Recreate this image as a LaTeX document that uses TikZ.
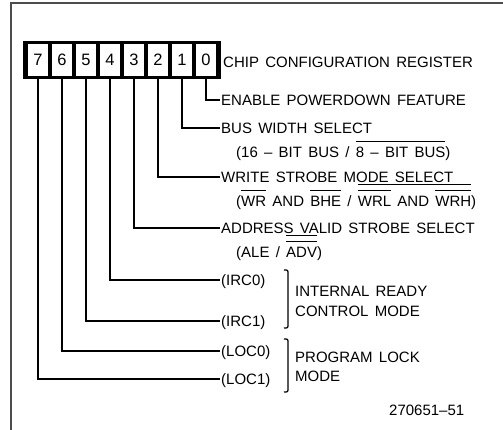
\documentclass[tikz,border=0pt]{standalone}
\usepackage{fontspec}
\setmainfont{Liberation Sans}[WordSpace=1.5]
\newsavebox\barboxa
\newsavebox\barboxb
\newcommand\barlow[1]{\sbox\barboxa{#1}\rlap{\rule[15.5pt]{\wd\barboxa}{1pt}}\usebox\barboxa}
\newcommand\barhigh[1]{\sbox\barboxb{#1}\rlap{\rule[21pt]{\wd\barboxb}{1pt}}\usebox\barboxb}

\begin{document}
\begin{tikzpicture}[x=1pt,y=-1pt,
  bitcell/.style={draw,line width=1.3pt,minimum width=22pt,minimum height=35pt,
    inner sep=0pt,font=\fontsize{16.5}{16}\selectfont},
  wire/.style={line width=2pt},
  lbl/.style={anchor=west,inner sep=1pt,text height=10.7pt,text depth=0pt,
    font=\fontsize{15}{18}\selectfont},
  brace/.style={line width=1.2pt}]
  \useasboundingbox (0,0) rectangle (503,430);
  \draw[line width=1.2pt,black!70] (503,3) -- (11,3) -- (11,430);
  % register cells
  \foreach \b in {0,...,7}
    \node[bitcell] (b\b) at ({206-24*\b},60) {\b};
  \draw[line width=3pt] (24.5,42.5) rectangle (219.5,77.5);
  \node[lbl] (title) at (222,62) {CHIP CONFIGURATION REGISTER};
  % bit descriptions
  \node[lbl] (t0) at (220,100) {ENABLE POWERDOWN FEATURE};
  \node[lbl] (t1) at (220,128) {BUS WIDTH SELECT};
  \node[lbl] (t1b) at (235,152) {(16 -- BIT BUS / \barlow{8 -- BIT BUS})};
  \node[lbl] (t2) at (220,177) {WRITE STROBE MODE SELECT};
  \node[lbl] (t2b) at (235,201)
    {(\barlow{WR} AND \barlow{BHE} / \barhigh{\barlow{WRL} AND \barlow{WRH}})};
  \node[lbl] (t3) at (220,228) {ADDRESS VALID STROBE SELECT};
  \node[lbl] (t3b) at (235,252) {(ALE / \barhigh{\barlow{ADV}})};
  \node[lbl] (t4) at (220,280) {(IRC0)};
  \node[lbl] (t5) at (220,321) {(IRC1)};
  \node[lbl] (t6) at (220,351) {(LOC0)};
  \node[lbl] (t7) at (220,379) {(LOC1)};
  \foreach \b in {0,...,7}
    \draw[wire] (b\b.south) |- (t\b.west);
  % mode brackets
  \draw[brace] (284,270) .. controls (288,270) .. (288,274) -- (288,324)
    .. controls (288,328) .. (284,328);
  \draw[brace] (284,339) .. controls (288,339) .. (288,343) -- (288,388)
    .. controls (288,392) .. (284,392);
  \node[lbl] (irm) at (294,291) {INTERNAL READY};
  \node[lbl] (irm2) at (294,311) {CONTROL MODE};
  \node[lbl] (plm) at (294,357) {PROGRAM LOCK};
  \node[lbl] (plm2) at (294,376) {MODE};
  \node[lbl] (fig) at (388,410) {270651--51};
\end{tikzpicture}
\end{document}
